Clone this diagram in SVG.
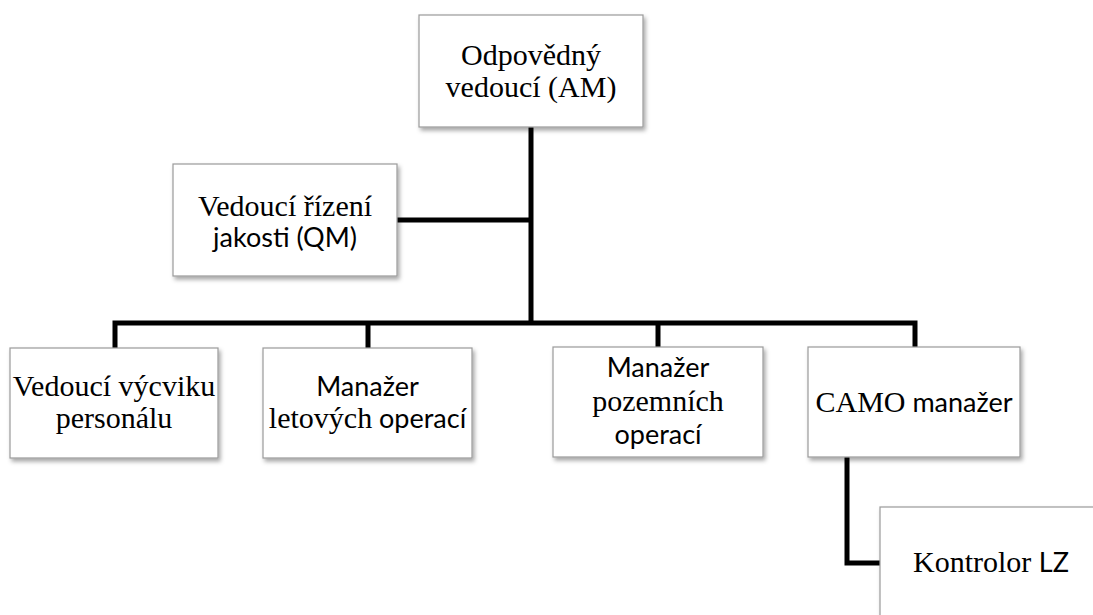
<svg xmlns="http://www.w3.org/2000/svg" width="1093" height="615" viewBox="0 0 1093 615">
<defs>
<filter id="sh" x="-10%" y="-10%" width="130%" height="140%">
<feDropShadow dx="2" dy="3" stdDeviation="2" flood-color="#000" flood-opacity="0.35"/>
</filter>
<style>
.box{fill:#fff;stroke:#9a9a9a;stroke-width:1.2;filter:url(#sh)}
.con{fill:none;stroke:#000;stroke-width:5;stroke-linejoin:miter}
</style>
</defs>
<g id="connectors">
<path class="con" d="M531 127 V325"/>
<path class="con" d="M397 220 H531"/>
<path class="con" d="M115 348 V323 H915 V348"/>
<path class="con" d="M368 323 V348"/>
<path class="con" d="M658 323 V348"/>
<path class="con" d="M847 457 V563 H880"/>
</g>
<g id="am">
<rect class="box" x="419" y="15" width="224" height="112"/>
<text x="531" y="65" font-family="Liberation Serif, serif" font-size="30" text-anchor="middle">Odpovědný</text>
<text x="531" y="97" font-family="Liberation Serif, serif" font-size="30" text-anchor="middle">vedoucí (AM)</text>
</g>
<g id="qm">
<rect class="box" x="173" y="164" width="224" height="112"/>
<text x="285" y="216" font-family="Liberation Serif, serif" font-size="30" text-anchor="middle">Vedoucí řízení</text>
<text x="285" y="247" font-family="Lato, sans-serif" font-size="27" text-anchor="middle">jakosti (QM)</text>
</g>
<g id="vycvik">
<rect class="box" x="10" y="348" width="208" height="110"/>
<text x="114" y="396" font-family="Liberation Serif, serif" font-size="30" text-anchor="middle">Vedoucí výcviku</text>
<text x="114" y="428" font-family="Liberation Serif, serif" font-size="30" text-anchor="middle">personálu</text>
</g>
<g id="letove">
<rect class="box" x="263" y="348" width="209" height="110"/>
<text x="367.5" y="396" font-family="Lato, sans-serif" font-size="27" text-anchor="middle">Manažer</text>
<text x="367.5" y="428" font-size="30" text-anchor="middle"><tspan font-family="Liberation Serif, serif">letových</tspan><tspan font-family="Lato, sans-serif" font-size="27"> operací</tspan></text>
</g>
<g id="pozemni">
<rect class="box" x="553" y="347" width="210" height="110"/>
<text x="658" y="377" font-family="Lato, sans-serif" font-size="27" text-anchor="middle">Manažer</text>
<text x="658" y="411" font-family="Liberation Serif, serif" font-size="30" text-anchor="middle">pozemních</text>
<text x="658" y="444" font-family="Lato, sans-serif" font-size="27" text-anchor="middle">operací</text>
</g>
<g id="camo">
<rect class="box" x="808" y="347" width="212" height="110"/>
<text x="914" y="412" font-size="30" text-anchor="middle"><tspan font-family="Liberation Serif, serif">CAMO</tspan><tspan font-family="Lato, sans-serif" font-size="27"> manažer</tspan></text>
</g>
<g id="kontrolor">
<rect class="box" x="880" y="507" width="230" height="130"/>
<text x="913" y="572" font-family="Liberation Serif, serif" font-size="30">Kontrolor <tspan font-family="Lato, sans-serif" font-size="27">LZ</tspan></text>
</g>
</svg>
